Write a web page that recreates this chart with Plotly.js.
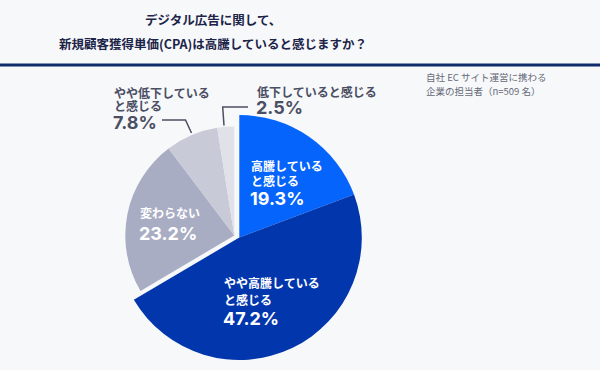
<!DOCTYPE html>
<html>
<head>
<meta charset="utf-8">
<script src="https://cdn.plot.ly/plotly-3.0.1.min.js"></script>
<style>
html,body{margin:0;padding:0;background:#f7f8fa;}
#chart{width:600px;height:370px;}
</style>
</head>
<body>
<div id="chart"></div>
<script>
// ---- data ----
const categories = ['高騰していると感じる', 'やや高騰していると感じる', '変わらない', 'やや低下していると感じる', '低下していると感じる'];
const shares = [19.3, 47.2, 23.2, 7.8, 2.5];
const labelLines = [['高騰している', 'と感じる'], ['やや高騰している', 'と感じる'], ['変わらない'], ['やや低下している', 'と感じる'], ['低下していると感じる']];
const emphasized = [true, true, false, false, false];
const titleLines = ['デジタル広告に関して、', '新規顧客獲得単価(CPA)は高騰していると感じますか？'];
const noteLines = ['自社 EC サイト運営に携わる', '企業の担当者（n=509 名）'];

// ---- styles / layout ----
const sliceColors = ['#0564fb', '#0236ad', '#a9adc4', '#c8cad8', '#e0e1e9'];
const W = 600, H = 370;
const px = x => x / W;
const py = y => 1 - y / H;
// pie geometry in pixels: [cx, cy, r]
const emphGeom = [239.3, 237.5, 122.5];
const restGeom = [234.3, 235.5, 109];
function dom(g) {
  return { x: [px(g[0] - g[2]), px(g[0] + g[2])], y: [py(g[1] + g[2]), py(g[1] - g[2])] };
}
const labelPos = [
  { x: 249, y: 165, step: 15.5, py: 198.5, color: '#ffffff' },
  { x: 222, y: 282, step: 17, py: 318.5, color: '#ffffff' },
  { x: 138, y: 212, step: 0, py: 233.5, color: '#ffffff' },
  { x: 112, y: 92, step: 13.5, py: 122.5, color: '#4b4f63' },
  { x: 255, y: 91, step: 0, py: 107.5, color: '#4b4f63' }
];
const cjk = '"Noto Sans CJK JP", "Noto Sans", sans-serif';
const numFont = 'Inter, "Noto Sans", sans-serif';

const traces = [false, true].map(isEmph => ({
  type: 'pie',
  labels: categories,
  values: shares,
  sort: false,
  direction: 'clockwise',
  rotation: 0,
  textinfo: 'none',
  hoverinfo: 'skip',
  showlegend: false,
  domain: dom(isEmph ? emphGeom : restGeom),
  marker: {
    colors: sliceColors.map((c, i) => emphasized[i] === isEmph ? c : 'rgba(0,0,0,0)'),
    line: { width: 0 }
  }
}));

const annotations = [];
titleLines.forEach((t, i) => annotations.push({
  xref: 'paper', yref: 'paper', x: px(213), y: py(19 + i * 24), xanchor: 'center', yanchor: 'middle',
  text: '<b>' + t + '</b>', showarrow: false, font: { family: cjk, size: 12.5, color: '#1c2448' }
}));
noteLines.forEach((t, i) => annotations.push({
  xref: 'paper', yref: 'paper', x: px(424), y: py(77 + i * 14), xanchor: 'left', yanchor: 'middle',
  text: t, showarrow: false, font: { family: cjk, size: 9.5, color: '#666a78' }
}));
categories.forEach((c, i) => {
  const p = labelPos[i];
  labelLines[i].forEach((ln, j) => annotations.push({
    xref: 'paper', yref: 'paper', x: px(p.x), y: py(p.y + j * p.step), xanchor: 'left', yanchor: 'middle',
    text: '<b>' + ln + '</b>', showarrow: false, font: { family: cjk, size: 12, color: p.color }
  }));
  annotations.push({
    xref: 'paper', yref: 'paper', x: px(p.x - 1), y: py(p.py), xanchor: 'left', yanchor: 'middle',
    text: '<b>' + shares[i].toFixed(1) + '%</b>', showarrow: false, font: { family: numFont, size: 18, color: p.color }
  });
});

const shapes = [
  { type: 'rect', xref: 'paper', yref: 'paper', x0: 0, x1: 1, y0: py(66.5), y1: py(63.5), fillcolor: '#0f2a6b', line: { width: 0 } },
  { type: 'path', xref: 'paper', yref: 'paper', path: `M ${px(162)} ${py(120)} L ${px(185.5)} ${py(120)} L ${px(191.5)} ${py(133)}`, line: { color: '#4b4f63', width: 1.5 } },
  { type: 'path', xref: 'paper', yref: 'paper', path: `M ${px(248)} ${py(107)} L ${px(222.7)} ${py(107)} L ${px(224)} ${py(125.5)}`, line: { color: '#4b4f63', width: 1.5 } }
];

Plotly.newPlot('chart', traces, {
  width: W, height: H,
  margin: { l: 0, r: 0, t: 0, b: 0 },
  paper_bgcolor: '#f7f8fa',
  plot_bgcolor: '#f7f8fa',
  annotations, shapes
}, { displayModeBar: false, staticPlot: true });
</script>
</body>
</html>
